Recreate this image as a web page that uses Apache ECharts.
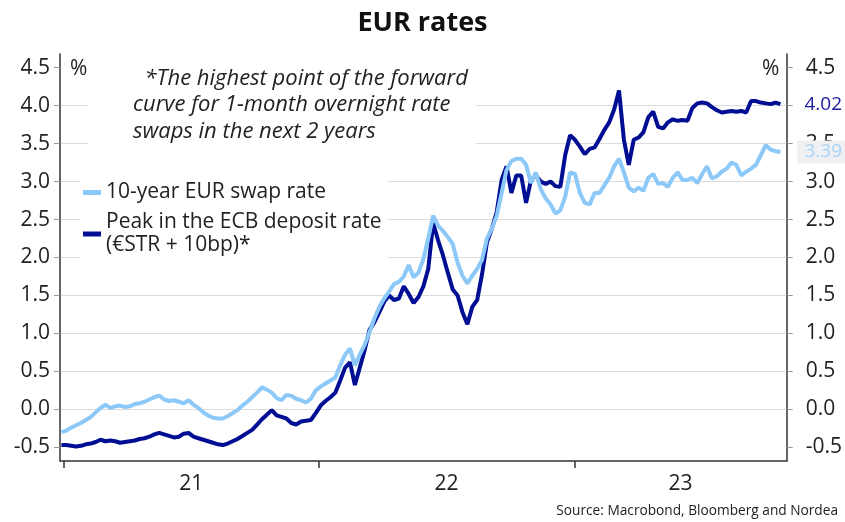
<!DOCTYPE html>
<html lang="en">
<head>
  <meta charset="utf-8" />
  <script src="https://fastly.jsdelivr.net/npm/echarts@6/dist/echarts.min.js"></script>
</head>
<body style="margin: 0; background: #fff">
  <div id="container" style="width: 845px; height: 522px"></div>
  <script>
    // weekly observations, first one on 2020-12-28
    var firstWeek = "2020-12-28";

    var swap10y = [
      -0.30, -0.28, -0.24, -0.21, -0.18, -0.14, -0.10, -0.04, 0.02, 0.06,
      0.02, 0.04, 0.05, 0.03, 0.04, 0.07, 0.08, 0.10, 0.13, 0.16,
      0.18, 0.13, 0.11, 0.12, 0.10, 0.08, 0.12, 0.06, 0.02, -0.04,
      -0.08, -0.11, -0.12, -0.12, -0.09, -0.05, -0.01, 0.05, 0.10, 0.16,
      0.22, 0.29, 0.26, 0.22, 0.15, 0.12, 0.19, 0.18, 0.14, 0.12,
      0.09, 0.14, 0.25, 0.30, 0.34, 0.38, 0.42, 0.58, 0.72, 0.80,
      0.58, 0.72, 0.85, 1.02, 1.20, 1.35, 1.46, 1.55, 1.65, 1.68,
      1.75, 1.90, 1.74, 1.80, 1.98, 2.25, 2.55, 2.42, 2.35, 2.27,
      2.18, 1.93, 1.76, 1.66, 1.76, 1.85, 1.97, 2.25, 2.38, 2.55,
      2.85, 3.15, 3.27, 3.30, 3.30, 3.22, 2.98, 3.12, 2.90, 2.78,
      2.70, 2.58, 2.62, 2.80, 3.12, 3.10, 2.85, 2.72, 2.70, 2.85,
      2.85, 2.95, 3.05, 3.20, 3.30, 3.12, 2.92, 2.87, 2.92, 2.88,
      3.05, 3.10, 2.97, 2.98, 2.93, 3.05, 3.12, 3.02, 3.02, 3.05,
      2.98, 3.10, 3.20, 3.04, 3.07, 3.13, 3.17, 3.25, 3.22, 3.08,
      3.13, 3.17, 3.22, 3.35, 3.48, 3.42, 3.40, 3.39
    ];

    var ecbPeak = [
      -0.47, -0.47, -0.48, -0.49, -0.48, -0.46, -0.45, -0.43, -0.40, -0.42,
      -0.41, -0.42, -0.44, -0.43, -0.42, -0.41, -0.39, -0.38, -0.36, -0.33,
      -0.31, -0.33, -0.35, -0.37, -0.36, -0.32, -0.31, -0.36, -0.38, -0.40,
      -0.42, -0.44, -0.46, -0.47, -0.45, -0.42, -0.39, -0.35, -0.31, -0.27,
      -0.20, -0.13, -0.07, -0.01, -0.08, -0.10, -0.12, -0.18, -0.20, -0.16,
      -0.15, -0.14, -0.05, 0.05, 0.11, 0.16, 0.22, 0.38, 0.55, 0.62,
      0.32, 0.55, 0.78, 1.05, 1.15, 1.28, 1.42, 1.50, 1.44, 1.46,
      1.62, 1.52, 1.40, 1.48, 1.62, 1.85, 2.45, 2.23, 2.03, 1.80,
      1.58, 1.50, 1.28, 1.12, 1.35, 1.44, 1.78, 2.20, 2.38, 2.60,
      3.02, 3.20, 2.85, 3.08, 3.08, 2.72, 3.02, 3.08, 3.00, 2.97,
      3.00, 2.94, 2.93, 3.35, 3.61, 3.55, 3.46, 3.36, 3.43, 3.45,
      3.56, 3.68, 3.78, 3.95, 4.20, 3.55, 3.22, 3.55, 3.58, 3.65,
      3.85, 3.92, 3.72, 3.70, 3.78, 3.82, 3.80, 3.81, 3.80, 3.97,
      4.03, 4.04, 4.03, 3.98, 3.94, 3.91, 3.92, 3.93, 3.92, 3.93,
      3.91, 4.06, 4.06, 4.04, 4.03, 4.02, 4.04, 4.02
    ];

    var yTicks = [-0.5, 0, 0.5, 1, 1.5, 2, 2.5, 3, 3.5, 4, 4.5];
    var yTicksRight = [-0.5, 0, 0.5, 1, 1.5, 2, 2.5, 3, 3.5, 4.5]; // 4.0 sits under the 4.02 tag
    var yearTicks = ["2021-01-01", "2022-01-01", "2023-01-01"];
    var yearLabels = ["2021-07-02", "2022-07-02", "2023-06-02"];

    var weeks = [];
    for (var i = 0; i < swap10y.length; i++) {
      weeks.push(Date.parse(firstWeek) + i * 7 * 86400000);
    }
    function pairs(vals) {
      return vals.map(function (v, i) { return [weeks[i], v]; });
    }

    var font = "Open Sans";
    var ink = "#222";
    var darkBlue = "#000e94";
    var lightBlue = "#8cc8f8";

    var chart = echarts.init(document.getElementById("container"), null, { renderer: "canvas" });

    var yCommon = {
      type: "value",
      min: -0.68,
      max: 4.68,
      splitNumber: 10,
      minInterval: 0.5,
      maxInterval: 0.5,
      axisLine: { show: true, lineStyle: { color: "#333", width: 1.5 } },
      axisTick: { show: true, length: 6, lineStyle: { color: "#999" }, customValues: yTicks },
    };

    var option = {
      animation: false,
      backgroundColor: "#fff",
      title: {
        text: "EUR rates",
        left: "center",
        top: 5,
        textStyle: { fontFamily: font, fontSize: 27, fontWeight: "bold", color: "#111" },
      },
      grid: { left: 60, right: 58, top: 54, bottom: 61 },
      legend: {
        data: ["10-year EUR swap rate", "Peak in the ECB deposit rate\n(€STR + 10bp)*"],
        orient: "vertical",
        left: 80,
        top: 179,
        padding: [2, 6, 2, 3],
        backgroundColor: "#fff",
        icon: "rect",
        itemWidth: 18,
        itemHeight: 5,
        itemGap: 7,
        textStyle: { fontFamily: font, fontSize: 21, lineHeight: 23, color: ink },
      },
      xAxis: {
        // timestamps on a plain value axis, so ticks can sit on year starts
        type: "value",
        min: Date.parse("2020-12-26"),
        max: Date.parse("2023-11-01"),
        axisLine: { show: true, onZero: false, lineStyle: { color: "#333", width: 1.5 } },
        axisTick: { show: true, length: 7, lineStyle: { color: "#333", width: 1.5 },
          customValues: yearTicks.map(Date.parse) },
        axisLabel: {
          customValues: yearLabels.map(Date.parse),
          margin: 13,
          fontFamily: font,
          fontSize: 21,
          color: ink,
          formatter: function (v) { return String(new Date(v).getUTCFullYear()).slice(2); },
        },
        splitLine: { show: false },
      },
      yAxis: [
        Object.assign({}, yCommon, {
          position: "left",
          axisLabel: { customValues: yTicks, margin: 10, fontFamily: font, fontSize: 21, color: ink,
            formatter: function (v) { return v.toFixed(1); } },
          splitLine: { show: true, showMinLine: false, showMaxLine: false, lineStyle: { color: "#dcdcdc", width: 1 } },
        }),
        Object.assign({}, yCommon, {
          position: "right",
          axisLabel: { customValues: yTicksRight, margin: 19, fontFamily: font, fontSize: 21, color: ink,
            formatter: function (v) { return v.toFixed(1); } },
          splitLine: { show: false },
        }),
      ],
      graphic: [
        {
          type: "text", left: 88, top: 62, z: 10,
          style: {
            text: "  *The highest point of the forward\ncurve for 1-month overnight rate\nswaps in the next 2 years",
            fontFamily: font, fontSize: 22, fontStyle: "italic", lineHeight: 26.5, fill: ink,
            backgroundColor: "#fff", padding: [3, 8, 4, 45],
          },
        },
        { type: "text", left: 69, top: 59, z: 10,
          style: { text: "%", fontFamily: font, fontSize: 21, fill: ink, backgroundColor: "#fff", padding: [0, 1, 0, 1] } },
        { type: "text", left: 761, top: 59, z: 10,
          style: { text: "%", fontFamily: font, fontSize: 21, fill: ink, backgroundColor: "#fff", padding: [0, 1, 0, 1] } },
        {
          type: "text", right: 7, top: 504, z: 10,
          style: { text: "Source: Macrobond, Bloomberg and Nordea", fontFamily: font, fontSize: 13.7, fill: ink },
        },
      ],
      series: [
        {
          name: "Peak in the ECB deposit rate\n(€STR + 10bp)*",
          type: "line",
          data: pairs(ecbPeak),
          showSymbol: false,
          color: darkBlue,
          lineStyle: { width: 4, color: darkBlue },
          endLabel: {
            show: true, distance: 24, fontFamily: font, fontSize: 19, color: "#1a1aa0",
            formatter: function (p) { return p.value[1].toFixed(2); },
          },
        },
        {
          name: "10-year EUR swap rate",
          type: "line",
          data: pairs(swap10y),
          showSymbol: false,
          color: lightBlue,
          lineStyle: { width: 4, color: lightBlue },
          endLabel: {
            show: true, distance: 17, fontFamily: font, fontSize: 19, color: "#a9d4f6",
            backgroundColor: "#eef0f3", padding: [2, 6, 2, 7],
            formatter: function (p) { return p.value[1].toFixed(2); },
          },
        },
      ],
    };

    chart.setOption(option);
  </script>
</body>
</html>
